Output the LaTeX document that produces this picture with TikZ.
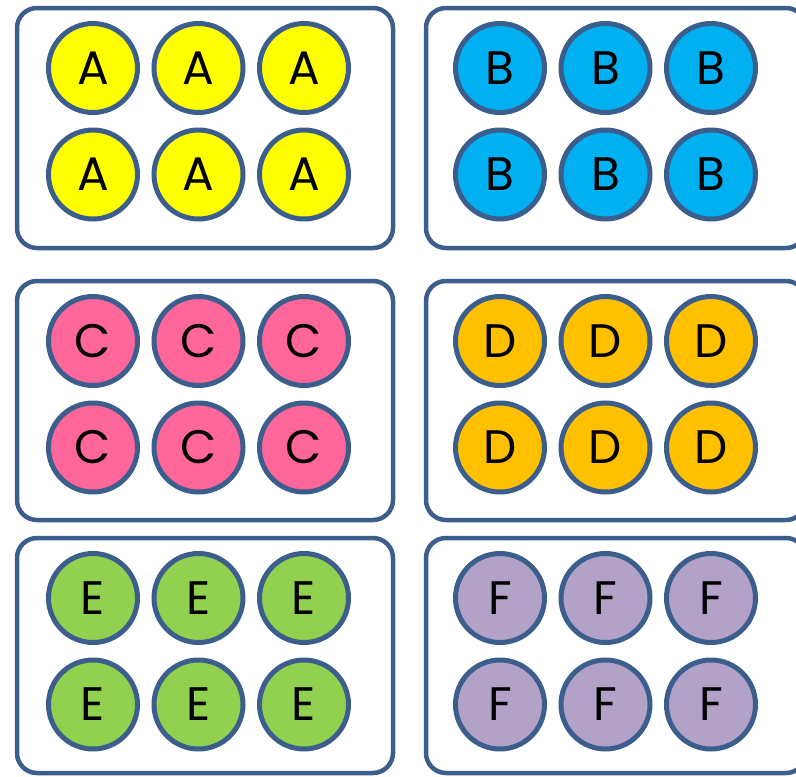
\documentclass[tikz,border=0pt]{standalone}
\usepackage{fontspec}
\setmainfont{Poppins}
\usepackage{tikz}

\definecolor{rim}{HTML}{3B5E8C}
\definecolor{fillA}{HTML}{FFFF00}
\definecolor{fillB}{HTML}{00B0F0}
\definecolor{fillC}{HTML}{FF6699}
\definecolor{fillD}{HTML}{FFC000}
\definecolor{fillE}{HTML}{92D050}
\definecolor{fillF}{HTML}{B3A2C7}

\tikzset{
    kutu/.style={draw=rim, line width=4.5pt, rounded corners=20pt, minimum width=376pt, inner sep=0pt},
    top/.style={draw=rim, line width=5pt, circle, minimum size=89pt, inner sep=0pt, font=\fontsize{47}{47}\selectfont}
}

\begin{document}
\begin{tikzpicture}[x=1pt, y=-1pt]
        \useasboundingbox (0,0) rectangle (796,777);

        % KUTULAR
        \node[kutu, minimum height=240pt] (kutuA) at (205,128) {};
        \node[kutu, minimum height=240pt, minimum width=380pt] (kutuB) at (616,128) {};
        \node[kutu, minimum height=239pt] (kutuC) at (205,400.5) {};
        \node[kutu, minimum height=239pt, minimum width=380pt] (kutuD) at (616,400.5) {};
        \node[kutu, minimum height=235pt] (kutuE) at (205,655.5) {};
        \node[kutu, minimum height=235pt, minimum width=380pt] (kutuF) at (616,655.5) {};

        % TOPLAR
        \foreach \harf/\x/\y in {A/0/68, B/407/68, C/0/341, D/407/341, E/0/598, F/407/598} {
            \foreach \i in {0,1,2} {
                \node[top, fill=fill\harf] (top\harf\i1) at (93+\x+105.5*\i, \y) {\harf};
                \node[top, fill=fill\harf] (top\harf\i2) at (93+\x+105.5*\i, \y+106.5) {\harf};
            }
        }
\end{tikzpicture}
\end{document}
